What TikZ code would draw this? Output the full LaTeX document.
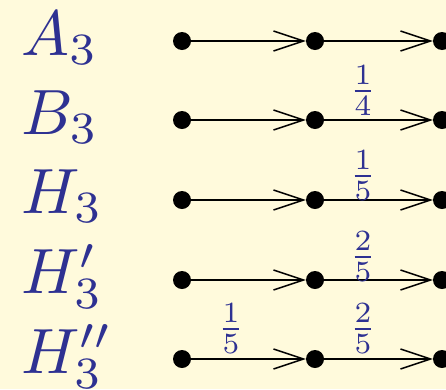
\documentclass[tikz,border=0pt]{standalone}
\usetikzlibrary{arrows.meta}
\definecolor{slideblue}{RGB}{46,49,146}
\definecolor{slidebg}{RGB}{255,250,220}
\tikzset{
  vert/.style={circle, fill=black, inner sep=0pt, minimum size=18pt},
  flow/.style={line width=1.5pt, -{Straight Barb[length=30pt, width=20pt, line width=1.5pt]}},
  grp/.style={anchor=base west, text=slideblue, inner sep=0pt, scale=6.4},
  wt/.style={text=slideblue, inner sep=0pt, scale=4.2},
}
\begin{document}
\begin{tikzpicture}[x=1pt, y=-1pt]
   \useasboundingbox (0,0) rectangle (446,389);
   \fill[slidebg] (0,0) rectangle (446,389);
   \clip (0,0) rectangle (446,389);
   % rows of the chains
   \foreach \r/\y in {A/41, B/120, H/200, Hp/280, Hpp/359} {
      \node[vert] (\r1) at (182,\y) {};
      \node[vert] (\r2) at (315,\y) {};
      \node[vert] (\r3) at (442,\y) {};
      \draw[flow] (\r1) -- (\r2);
      \draw[flow] (\r2) -- (\r3);
   }
   % group names
   \node[grp] (labA) at (20,55) {$A_3$};
   \node[grp] (labB) at (20,134) {$B_3$};
   \node[grp] (labH) at (20,213) {$H_3$};
   \node[grp] (labHp) at (20,293) {$H_3'$};
   \node[grp] (labHpp) at (20,373) {$H_3''$};
   % weights
   \node[wt] (wB) at (363,91) {$\frac14$};
   \node[wt] (wH) at (363,176) {$\frac15$};
   \node[wt] (wHp) at (363,257) {$\frac25$};
   \node[wt] (wHpp) at (363,329) {$\frac25$};
   \node[wt] (wHppl) at (231,329) {$\frac15$};
\end{tikzpicture}
\end{document}
